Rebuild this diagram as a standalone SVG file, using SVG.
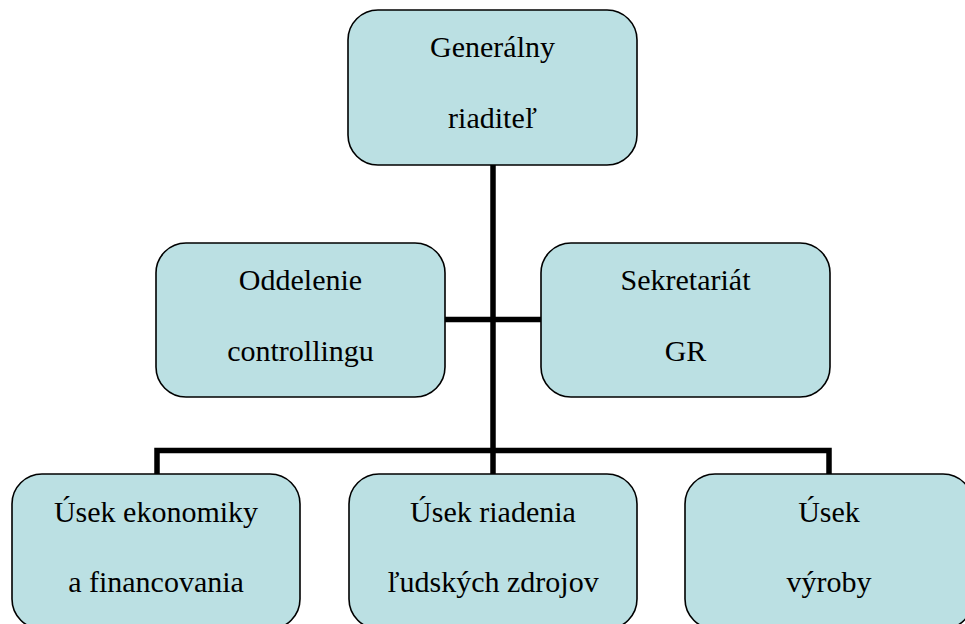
<svg xmlns="http://www.w3.org/2000/svg" width="965" height="624" viewBox="0 0 965 624">
<style>
.box{fill:#bbe0e3;stroke:#000;stroke-width:1.6}
.t{font-family:"Liberation Serif","Times New Roman","DejaVu Serif",serif;font-size:30px;fill:#000;text-anchor:middle}
.c{fill:none;stroke:#000;stroke-width:5.5;stroke-linejoin:miter;stroke-linecap:butt}
</style>
<rect width="965" height="624" fill="#fff"/>
<g id="connectors">
<path class="c" d="M493 165V474"/>
<path class="c" d="M445 319.5H541"/>
<path class="c" d="M157 474V450.5H829V474"/>
</g>
<g id="gr">
<rect class="box" x="348" y="10" width="289" height="155" rx="30"/>
<text class="t" x="492.5" y="57">Generálny</text>
<text class="t" x="492.5" y="128">riaditeľ</text>
</g>
<g id="controlling">
<rect class="box" x="156" y="243" width="289" height="154" rx="30"/>
<text class="t" x="300.5" y="290">Oddelenie</text>
<text class="t" x="300.5" y="361">controllingu</text>
</g>
<g id="sekretariat">
<rect class="box" x="541" y="243" width="289" height="154" rx="30"/>
<text class="t" x="685.5" y="290">Sekretariát</text>
<text class="t" x="685.5" y="361">GR</text>
</g>
<g id="ekonomika">
<rect class="box" x="12" y="474" width="288" height="155" rx="30"/>
<text class="t" x="156" y="522">Úsek ekonomiky</text>
<text class="t" x="156" y="592">a financovania</text>
</g>
<g id="ludske-zdroje">
<rect class="box" x="349" y="474" width="288" height="155" rx="30"/>
<text class="t" x="493" y="522">Úsek riadenia</text>
<text class="t" x="493" y="592">ľudských zdrojov</text>
</g>
<g id="vyroba">
<rect class="box" x="685" y="474" width="288" height="155" rx="30"/>
<text class="t" x="829" y="522">Úsek</text>
<text class="t" x="829" y="592">výroby</text>
</g>
</svg>
